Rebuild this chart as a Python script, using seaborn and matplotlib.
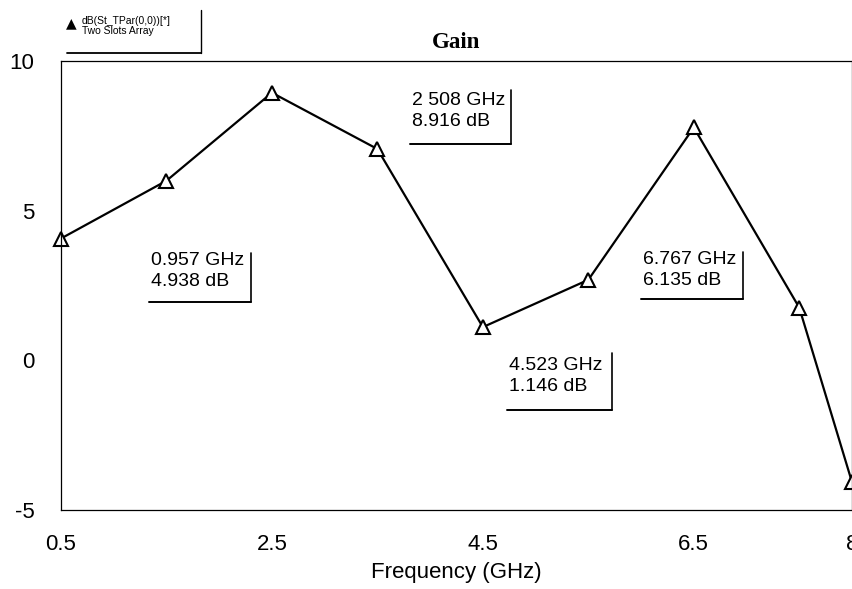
import matplotlib
matplotlib.use("Agg")
import matplotlib.pyplot as plt
import seaborn as sns
import pandas as pd

freq_ghz = [0.5, 1.5, 2.5, 3.5, 4.5, 5.5, 6.5, 7.5, 8.0]
gain_db = [4.07, 6.0, 8.94, 7.06, 1.11, 2.69, 7.78, 1.76, -4.07]
x_ticks = [0.5, 2.5, 4.5, 6.5, 8]
x_tick_labels = ["0.5", "2.5", "4.5", "6.5", "8"]
y_ticks = [10, 5, 0, -5]
marker_texts = ["2 508 GHz\n8.916 dB", "0.957 GHz\n4.938 dB",
                "4.523 GHz\n1.146 dB", "6.767 GHz\n6.135 dB"]

sns.set_theme(style="white")
plt.rcParams["font.family"] = ["Liberation Sans", "DejaVu Sans"]
plt.rcParams["axes.unicode_minus"] = False

df = pd.DataFrame({"Frequency (GHz)": freq_ghz, "Gain": gain_db})

W, H = 853, 589
fig = plt.figure(figsize=(W / 100, H / 100), dpi=100)
L, R, T, B = 61, 852, 61, 510
ax = fig.add_axes([L / W, 1 - B / H, (R - L) / W, (B - T) / H])

sns.lineplot(data=df, x="Frequency (GHz)", y="Gain", ax=ax, color="black",
             linewidth=1.6, marker="^", markersize=10, markerfacecolor="white",
             markeredgecolor="black", markeredgewidth=1.5, clip_on=False)

ax.set_xlim(0.5, 8)
ax.set_ylim(-5, 10)
ax.set_xticks(x_ticks)
ax.set_xticklabels(x_tick_labels)
ax.set_yticks(y_ticks)
ax.tick_params(axis="both", length=0, labelsize=16, colors="black")
ax.tick_params(axis="x", pad=17)
ax.tick_params(axis="y", pad=19)
ax.set_xlabel("Frequency (GHz)", fontsize=16, labelpad=5, color="black")
ax.set_ylabel("")
ax.set_title("Gain", fontsize=16.5, fontweight="bold", family="Liberation Serif",
             pad=9, color="black")
for s in ax.spines.values():
    s.set_color("black")
    s.set_linewidth(0.9)

def px(x, y):
    return ((x - L) / (R - L), (B - y) / (B - T))

# annotation boxes: (text left x, line1 center y, right border x, border top y, bottom y)
boxes = [(412, 103, 511, 90, 144), (151, 263, 251, 253, 302),
         (509, 368, 612, 353, 410), (643, 262, 743, 252, 299)]
for txt, (tx, cy, rx, ry0, by) in zip(marker_texts, boxes):
    ax.text(*px(tx, cy - 11), txt, transform=ax.transAxes, fontsize=14,
            va="top", ha="left", linespacing=1.3, color="black")
    ax.plot(*zip(px(rx, ry0), px(rx, by)), transform=ax.transAxes,
            color="black", lw=1.2, clip_on=False)
    ax.plot(*zip(px(tx - 2, by), px(rx, by)), transform=ax.transAxes,
            color="black", lw=1.4, clip_on=False)

# legend at top-left
fig.text(66 / W, 1 - 23 / H, "\u25B2", fontsize=10, va="center", ha="left", color="black",
         family="DejaVu Sans")
fig.text(82 / W, 1 - 16 / H, "dB(St_TPar(0,0))[*]\nTwo Slots Array", fontsize=7.5,
         va="top", ha="left", linespacing=1.05, color="black")
fig.add_artist(plt.Line2D([201 / W, 201 / W], [1 - 10 / H, 1 - 53 / H], color="black", lw=1))
fig.add_artist(plt.Line2D([67 / W, 201 / W], [1 - 53 / H, 1 - 53 / H], color="black", lw=1.3))

fig.savefig("out.png", dpi=100)
